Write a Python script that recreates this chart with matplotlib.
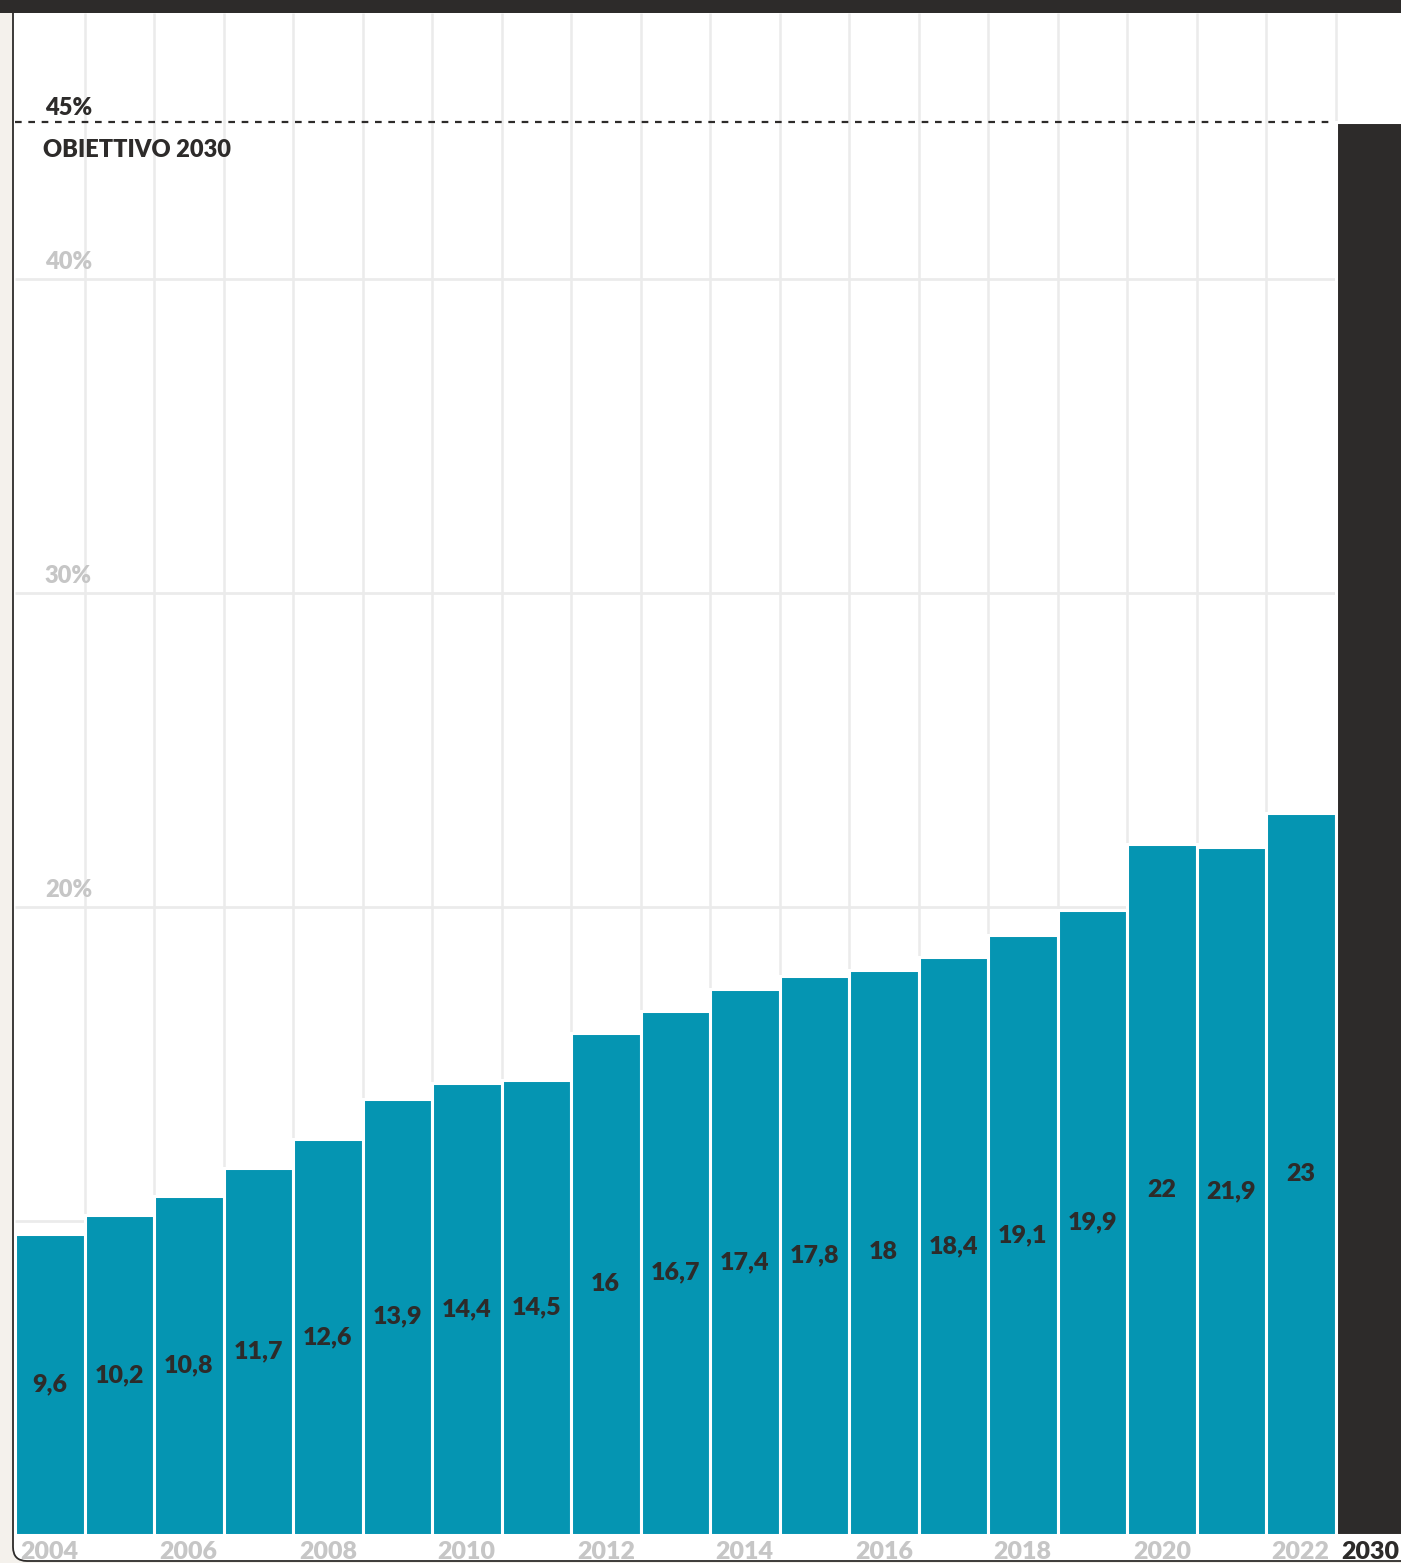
import matplotlib.pyplot as plt
from matplotlib.patches import FancyBboxPatch, Rectangle

# dati: quota di energia da fonti rinnovabili (%)
anni = [str(a) for a in range(2004, 2023)]
valori = [9.6, 10.2, 10.8, 11.7, 12.6, 13.9, 14.4, 14.5, 16, 16.7,
          17.4, 17.8, 18, 18.4, 19.1, 19.9, 22, 21.9, 23]
obiettivo_anno = '2030'
obiettivo = 45
griglia_y = [10, 20, 30, 40]
etichette_y = ['40%', '30%', '20%']

blu = '#0595b2'
scuro = '#2d2b2a'
grigio = '#c6c6c6'
linee = '#ebebeb'
font = ['Lato', 'DejaVu Sans']
peso = 'heavy'

W, H = 1401, 1563
fig = plt.figure(figsize=(W / 100, H / 100), dpi=100)
fig.patch.set_facecolor('#f4f1ec')

# sfondo: cornice con angolo arrotondato e banda scura in alto
bg = fig.add_axes([0, 0, 1, 1])
bg.set_xlim(0, W)
bg.set_ylim(H, 0)
bg.axis('off')
bg.add_patch(FancyBboxPatch((13, -30), 1500, 1591, boxstyle='round,pad=0,rounding_size=14',
                            facecolor='white', edgecolor=scuro, linewidth=1.3))
bg.add_patch(Rectangle((0, 0), W, 13, facecolor=scuro, edgecolor='none'))

# assi principali
ax = fig.add_axes([15 / W, 28 / H, 1390 / W, 1522 / H])
ax.patch.set_alpha(0)
ymax = 1522 / 31.4
ax.set_xlim(-0.5, 19.5)
ax.set_ylim(0, ymax)
for s in ax.spines.values():
    s.set_visible(False)

n = len(valori)
x = list(range(n))
ax.vlines([i + 0.5 for i in range(n)], 0, ymax, color=linee, linewidth=1.8, zorder=1)
ax.hlines(griglia_y, -0.5, n - 0.5, color=linee, linewidth=2, zorder=1)

ax.bar(x, valori, width=1.0, color=blu, edgecolor='white', linewidth=2.2, zorder=2)
ax.bar([n], [obiettivo], width=1.0, color=scuro, edgecolor='white', linewidth=2.2, zorder=2)

# linea obiettivo
ax.hlines(obiettivo, -0.5, n - 0.55, color=scuro, linewidth=1.6,
          linestyles=(0, (3, 3)), zorder=3)
ax.text(-0.07, obiettivo + 0.1, '45%', color=scuro, fontsize=17, fontweight=peso,
        family=font, ha='left', va='bottom', zorder=4)
ax.text(-0.1, obiettivo - 0.55, 'OBIETTIVO 2030', color=scuro, fontsize=17,
        fontweight=peso, family=font, ha='left', va='top', zorder=4)

for v, lab in zip([40, 30, 20], etichette_y):
    ax.text(-0.07, v + 0.2, lab, color=grigio, fontsize=17, fontweight=peso,
            family=font, ha='left', va='bottom', zorder=4)

# etichette dei valori a metà barra
for i, v in enumerate(valori):
    testo = f'{v:g}'.replace('.', ',')
    ax.text(i, v / 2, testo, color=scuro, fontsize=18, fontweight=peso,
            family=font, ha='center', va='center', zorder=4)

# etichette asse x
ax.set_yticks([])
ax.set_xticks(x[::2] + [n])
ax.set_xticklabels(anni[::2] + [obiettivo_anno], family=font, fontsize=18,
                   fontweight=peso, color=grigio)
ax.get_xticklabels()[-1].set_color(scuro)
ax.tick_params(axis='x', length=0, pad=4)

fig.savefig('out.png', dpi=100, facecolor=fig.get_facecolor())
